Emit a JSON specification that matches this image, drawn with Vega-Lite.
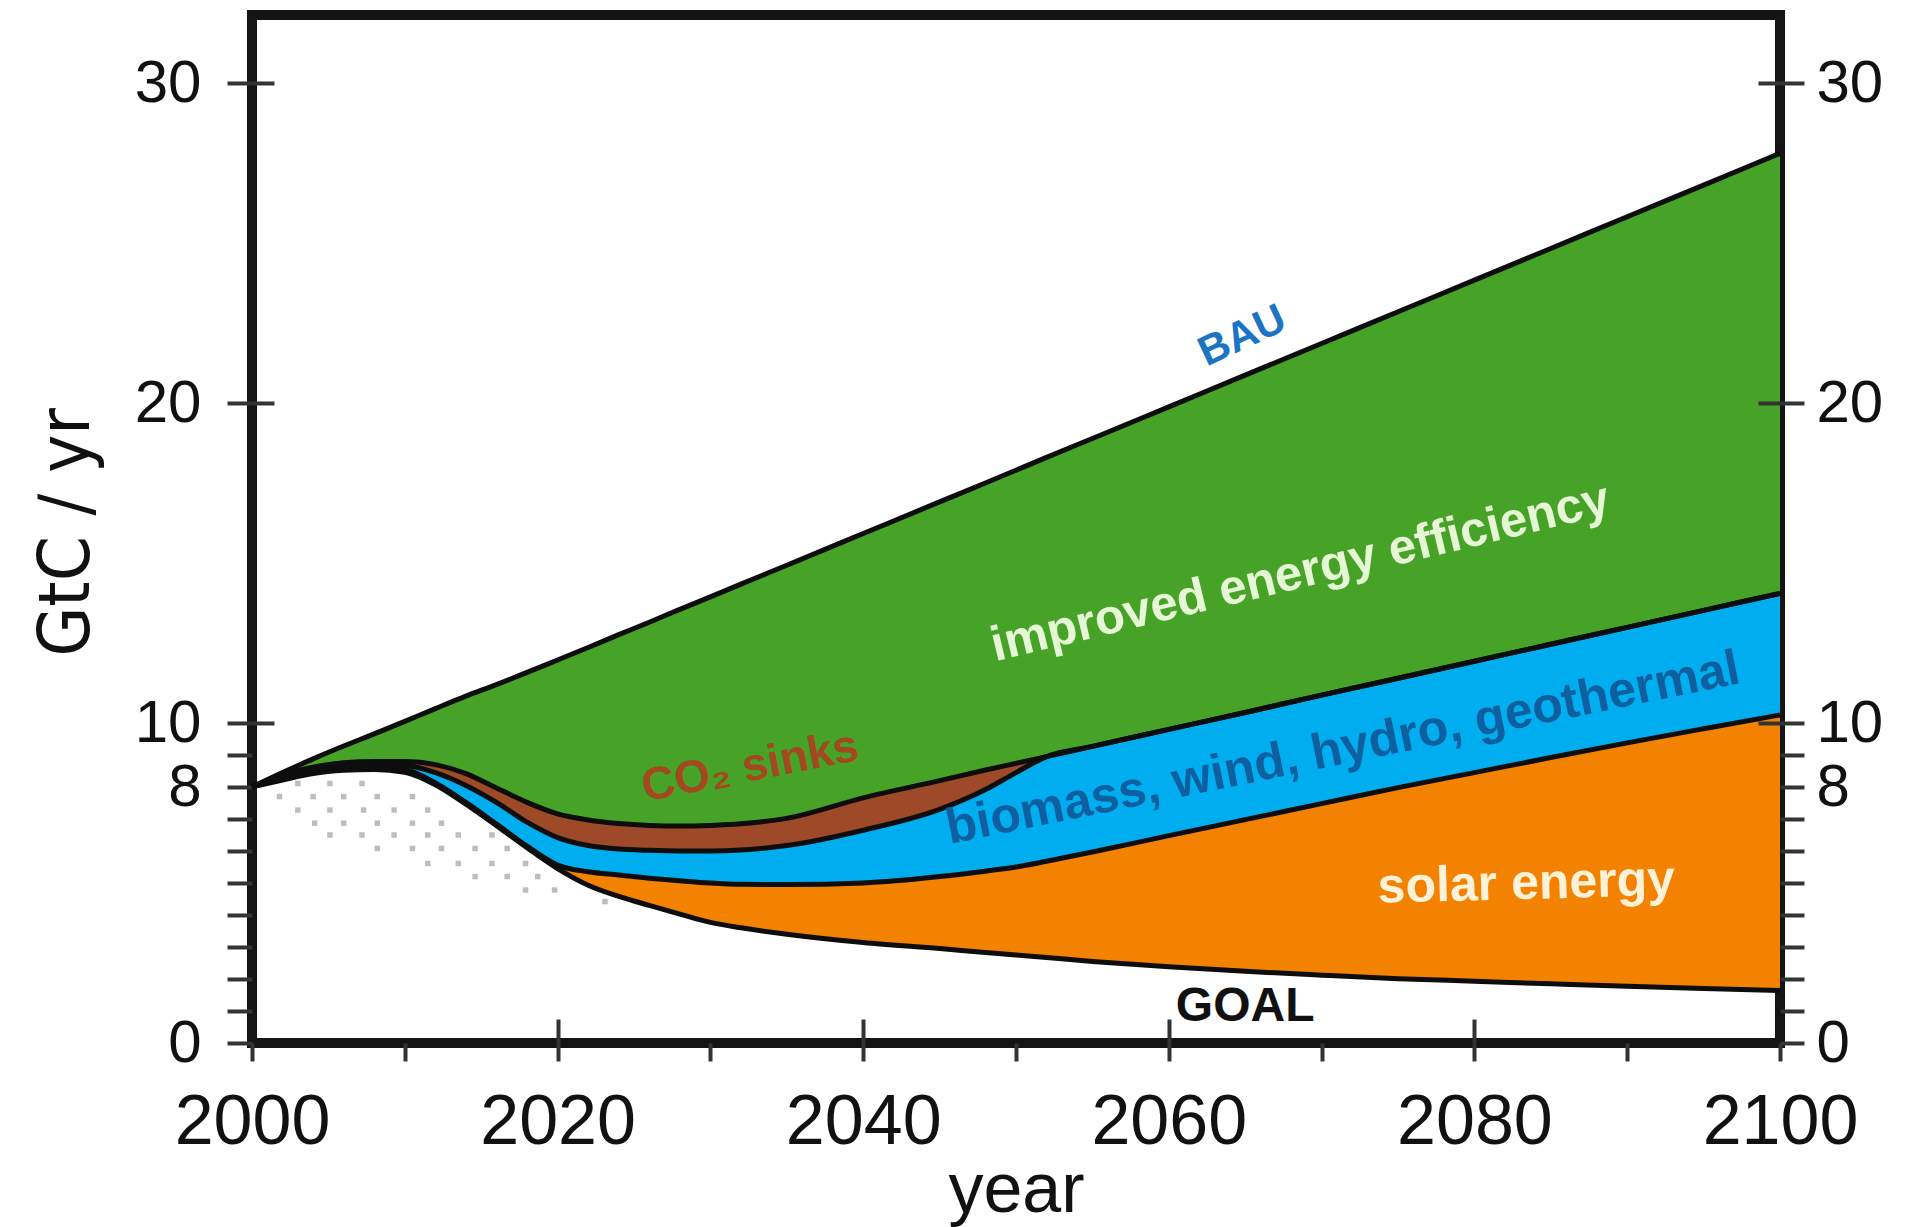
{
  "$schema": "https://vega.github.io/schema/vega-lite/v6.json",
  "width": 1528,
  "height": 1028,
  "autosize": {"type": "none"},
  "padding": {"left": 252, "top": 15, "right": 128, "bottom": 184},
  "background": "white",
  "config": {"view": {"stroke": "#141414", "strokeWidth": 10}, "font": "Liberation Sans"},
  "datasets": {
    "bands": [
      {"year": 2000, "bau": 8.0, "eff": 8.0, "sink": 8.0, "ren": 8.0, "goal": 8.0},
      {"year": 2002, "bau": 8.45, "eff": 8.38, "sink": 8.32, "ren": 8.27, "goal": 8.22},
      {"year": 2004, "bau": 8.88, "eff": 8.62, "sink": 8.55, "ren": 8.48, "goal": 8.42},
      {"year": 2006, "bau": 9.28, "eff": 8.76, "sink": 8.68, "ren": 8.6, "goal": 8.52},
      {"year": 2008, "bau": 9.66, "eff": 8.8, "sink": 8.72, "ren": 8.63, "goal": 8.55},
      {"year": 2010, "bau": 10.05, "eff": 8.8, "sink": 8.68, "ren": 8.55, "goal": 8.46},
      {"year": 2012, "bau": 10.45, "eff": 8.7, "sink": 8.45, "ren": 8.13, "goal": 8.07},
      {"year": 2014, "bau": 10.84, "eff": 8.42, "sink": 8.05, "ren": 7.52, "goal": 7.46},
      {"year": 2016, "bau": 11.2, "eff": 7.97, "sink": 7.52, "ren": 6.84, "goal": 6.79},
      {"year": 2018, "bau": 11.58, "eff": 7.52, "sink": 6.9, "ren": 6.15, "goal": 6.1},
      {"year": 2020, "bau": 11.97, "eff": 7.16, "sink": 6.42, "ren": 5.56, "goal": 5.45},
      {"year": 2022, "bau": 12.36, "eff": 6.97, "sink": 6.17, "ren": 5.35, "goal": 4.93},
      {"year": 2024, "bau": 12.76, "eff": 6.86, "sink": 6.06, "ren": 5.25, "goal": 4.58},
      {"year": 2026, "bau": 13.15, "eff": 6.8, "sink": 6.02, "ren": 5.15, "goal": 4.3},
      {"year": 2028, "bau": 13.55, "eff": 6.78, "sink": 6.0, "ren": 5.07, "goal": 4.03},
      {"year": 2030, "bau": 13.94, "eff": 6.8, "sink": 6.0, "ren": 5.0, "goal": 3.77},
      {"year": 2032, "bau": 14.34, "eff": 6.85, "sink": 6.03, "ren": 4.96, "goal": 3.6},
      {"year": 2035, "bau": 14.93, "eff": 7.02, "sink": 6.17, "ren": 4.95, "goal": 3.4},
      {"year": 2040, "bau": 15.92, "eff": 7.66, "sink": 6.65, "ren": 5.0, "goal": 3.14},
      {"year": 2045, "bau": 16.91, "eff": 8.2, "sink": 7.3, "ren": 5.2, "goal": 2.95},
      {"year": 2048, "bau": 17.5, "eff": 8.53, "sink": 7.92, "ren": 5.37, "goal": 2.83},
      {"year": 2050, "bau": 17.9, "eff": 8.74, "sink": 8.45, "ren": 5.5, "goal": 2.75},
      {"year": 2052, "bau": 18.3, "eff": 8.95, "sink": 8.95, "ren": 5.68, "goal": 2.67},
      {"year": 2055, "bau": 18.89, "eff": 9.27, "sink": 9.27, "ren": 5.97, "goal": 2.55},
      {"year": 2060, "bau": 19.88, "eff": 9.8, "sink": 9.8, "ren": 6.48, "goal": 2.38},
      {"year": 2065, "bau": 20.87, "eff": 10.33, "sink": 10.33, "ren": 6.98, "goal": 2.24},
      {"year": 2070, "bau": 21.86, "eff": 10.87, "sink": 10.87, "ren": 7.48, "goal": 2.12},
      {"year": 2075, "bau": 22.85, "eff": 11.4, "sink": 11.4, "ren": 7.98, "goal": 2.01},
      {"year": 2080, "bau": 23.84, "eff": 11.93, "sink": 11.93, "ren": 8.45, "goal": 1.93},
      {"year": 2085, "bau": 24.83, "eff": 12.46, "sink": 12.46, "ren": 8.92, "goal": 1.85},
      {"year": 2090, "bau": 25.82, "eff": 12.99, "sink": 12.99, "ren": 9.38, "goal": 1.77},
      {"year": 2095, "bau": 26.81, "eff": 13.52, "sink": 13.52, "ren": 9.82, "goal": 1.7},
      {"year": 2100, "bau": 27.8, "eff": 14.05, "sink": 14.05, "ren": 10.25, "goal": 1.64}
    ],
    "dots": [
      {"year": 2003.0, "value": 8.11}, {"year": 2005.1, "value": 8.11}, {"year": 2007.2, "value": 8.11},
      {"year": 2001.8, "value": 7.7}, {"year": 2004.0, "value": 7.7}, {"year": 2006.0, "value": 7.7}, {"year": 2008.2, "value": 7.7}, {"year": 2010.5, "value": 7.7},
      {"year": 2003.0, "value": 7.28}, {"year": 2005.1, "value": 7.28}, {"year": 2007.3, "value": 7.28}, {"year": 2009.3, "value": 7.28}, {"year": 2011.5, "value": 7.28},
      {"year": 2004.1, "value": 6.87}, {"year": 2006.0, "value": 6.87}, {"year": 2008.2, "value": 6.87}, {"year": 2010.5, "value": 6.87}, {"year": 2012.4, "value": 6.87},
      {"year": 2005.1, "value": 6.5}, {"year": 2007.2, "value": 6.5}, {"year": 2009.3, "value": 6.5}, {"year": 2011.5, "value": 6.5}, {"year": 2013.5, "value": 6.5}, {"year": 2015.7, "value": 6.5},
      {"year": 2008.2, "value": 6.08}, {"year": 2010.5, "value": 6.08}, {"year": 2012.4, "value": 6.08}, {"year": 2014.6, "value": 6.08}, {"year": 2016.7, "value": 6.08},
      {"year": 2011.5, "value": 5.61}, {"year": 2013.5, "value": 5.61}, {"year": 2015.7, "value": 5.61}, {"year": 2017.9, "value": 5.61},
      {"year": 2014.6, "value": 5.2}, {"year": 2016.7, "value": 5.2}, {"year": 2018.7, "value": 5.2},
      {"year": 2017.9, "value": 4.78}, {"year": 2019.8, "value": 4.78},
      {"year": 2023.1, "value": 4.42}
    ],
    "labels": [
      {"label": "BAU", "year": 2064.8, "value": 22.1},
      {"label": "improved energy efficiency", "year": 2068.6, "value": 14.7},
      {"label": "biomass, wind, hydro, geothermal", "year": 2071.4, "value": 9.2},
      {"label": "solar energy", "year": 2083.4, "value": 4.97},
      {"label": "GOAL", "year": 2065.0, "value": 1.11},
      {"label": "CO₂ sinks", "year": 2032.6, "value": 8.63}
    ]
  },
  "resolve": {"axis": {"x": "independent", "y": "independent"}},
  "layer": [
    {
      "data": {"name": "bands"},
      "mark": {"type": "area", "interpolate": "monotone", "color": "#46A328"},
      "encoding": {
        "x": {"field": "year", "type": "quantitative",
          "scale": {"domain": [2000, 2100], "nice": false, "zero": false},
          "axis": {"orient": "bottom", "values": [2000, 2010, 2020, 2030, 2040, 2050, 2060, 2070, 2080, 2090, 2100],
            "labelExpr": "datum.value % 20 === 0 ? '' + datum.value : ''",
            "labelFont": "Liberation Sans", "labelFontSize": 70, "labelColor": "#111111", "labelPadding": 27,
            "labelFlush": false, "labelOverlap": false, "labelBound": false,
            "tickSize": 18, "tickWidth": 4, "tickColor": "#333333", "domain": false, "grid": false,
            "title": "year", "titleFont": "Liberation Sans", "titleFontSize": 70, "titleFontWeight": "normal", "titleColor": "#111111",
            "titleX": 764, "titleY": 168, "titleBaseline": "alphabetic", "titleAlign": "center"}},
        "y": {"field": "bau", "type": "quantitative",
          "scale": {"domain": [0, 32.125], "nice": false},
          "axis": {"orient": "left", "values": [0, 1, 2, 3, 4, 5, 6, 7, 8, 9, 10, 20, 30],
            "labelExpr": "indexof([0, 8, 10, 20, 30], datum.value) >= 0 ? datum.label : ''",
            "labelFont": "Liberation Sans", "labelFontSize": 60, "labelColor": "#111111", "labelPadding": 26,
            "labelOverlap": false, "labelBound": false, "labelFlush": false,
            "tickSize": 25, "tickWidth": 4, "tickColor": "#333333", "domain": false, "grid": false,
            "title": "GtC / yr", "titleFont": "Liberation Sans Narrow, DejaVu Sans Condensed, Liberation Sans", "titleFontSize": 72, "titleFontWeight": "normal", "titleColor": "#111111",
            "titleX": -164, "titleY": 517, "titleAngle": 270, "titleBaseline": "alphabetic", "titleAlign": "center"}},
        "y2": {"field": "eff"}
      }
    },
    {
      "data": {"name": "bands"},
      "mark": {"type": "area", "interpolate": "monotone", "color": "#9E4A28"},
      "encoding": {
        "x": {"field": "year", "type": "quantitative",
          "axis": {"orient": "top", "offset": -1028, "values": [2020, 2040, 2060, 2080], "labels": false,
            "tickSize": 24, "tickWidth": 4, "tickColor": "#333333", "domain": false, "grid": false, "title": null, "zindex": 2}},
        "y": {"field": "eff", "type": "quantitative",
          "axis": {"orient": "right", "offset": -1528, "values": [10, 20, 30], "labels": false,
            "tickSize": 22, "tickWidth": 4, "tickColor": "#333333", "domain": false, "grid": false, "title": null, "zindex": 2}},
        "y2": {"field": "sink"}
      }
    },
    {
      "data": {"name": "bands"},
      "mark": {"type": "area", "interpolate": "monotone", "color": "#00AEEF"},
      "encoding": {
        "x": {"field": "year", "type": "quantitative", "axis": null},
        "y": {"field": "sink", "type": "quantitative",
          "axis": {"orient": "right", "values": [0, 1, 2, 3, 4, 5, 6, 7, 8, 9, 10, 20, 30],
            "labelExpr": "indexof([0, 8, 10, 20, 30], datum.value) >= 0 ? datum.label : ''",
            "labelFont": "Liberation Sans", "labelFontSize": 60, "labelColor": "#111111", "labelPadding": 12,
            "labelOverlap": false, "labelBound": false, "labelFlush": false,
            "tickSize": 24, "tickWidth": 4, "tickColor": "#333333", "domain": false, "grid": false, "title": null}},
        "y2": {"field": "ren"}
      }
    },
    {
      "data": {"name": "bands"},
      "mark": {"type": "area", "interpolate": "monotone", "color": "#F28200"},
      "encoding": {
        "x": {"field": "year", "type": "quantitative", "axis": null},
        "y": {"field": "ren", "type": "quantitative",
          "axis": {"orient": "left", "offset": -1528, "values": [10, 20, 30], "labels": false,
            "tickSize": 22, "tickWidth": 4, "tickColor": "#333333", "domain": false, "grid": false, "title": null, "zindex": 2}},
        "y2": {"field": "goal"}
      }
    },
    {
      "data": {"name": "bands"},
      "transform": [{"fold": ["bau", "eff", "sink", "ren", "goal"], "as": ["series", "v"]}],
      "mark": {"type": "line", "interpolate": "monotone", "color": "#0d0d0d", "strokeWidth": 5},
      "encoding": {
        "x": {"field": "year", "type": "quantitative", "axis": null},
        "y": {"field": "v", "type": "quantitative", "axis": null},
        "detail": {"field": "series"}
      }
    },
    {
      "data": {"name": "dots"},
      "mark": {"type": "point", "shape": "square", "filled": true, "size": 30, "color": "#bdbdbd", "opacity": 1},
      "encoding": {
        "x": {"field": "year", "type": "quantitative", "axis": null},
        "y": {"field": "value", "type": "quantitative", "axis": null}
      }
    },
    {
      "data": {"name": "labels"},
      "transform": [{"filter": "datum.label === 'BAU'"}],
      "mark": {"type": "text", "angle": -25, "font": "Liberation Sans", "fontWeight": "bold", "fontSize": 42, "color": "#1B75C4", "align": "center", "baseline": "middle"},
      "encoding": {
        "x": {"field": "year", "type": "quantitative", "axis": null},
        "y": {"field": "value", "type": "quantitative", "axis": null},
        "text": {"field": "label"}
      }
    },
    {
      "data": {"name": "labels"},
      "transform": [{"filter": "datum.label === 'improved energy efficiency'"}],
      "mark": {"type": "text", "angle": -13.5, "font": "Liberation Sans", "fontWeight": "bold", "fontSize": 49, "color": "#E6F7D5", "align": "center", "baseline": "middle"},
      "encoding": {
        "x": {"field": "year", "type": "quantitative", "axis": null},
        "y": {"field": "value", "type": "quantitative", "axis": null},
        "text": {"field": "label"}
      }
    },
    {
      "data": {"name": "labels"},
      "transform": [{"filter": "datum.label === 'biomass, wind, hydro, geothermal'"}],
      "mark": {"type": "text", "angle": -11.5, "font": "Liberation Sans", "fontWeight": "bold", "fontSize": 50, "color": "#0D5FA0", "align": "center", "baseline": "middle"},
      "encoding": {
        "x": {"field": "year", "type": "quantitative", "axis": null},
        "y": {"field": "value", "type": "quantitative", "axis": null},
        "text": {"field": "label"}
      }
    },
    {
      "data": {"name": "labels"},
      "transform": [{"filter": "datum.label === 'solar energy'"}],
      "mark": {"type": "text", "angle": -1.5, "font": "Liberation Sans", "fontWeight": "bold", "fontSize": 50, "color": "#FFF2D8", "align": "center", "baseline": "middle"},
      "encoding": {
        "x": {"field": "year", "type": "quantitative", "axis": null},
        "y": {"field": "value", "type": "quantitative", "axis": null},
        "text": {"field": "label"}
      }
    },
    {
      "data": {"name": "labels"},
      "transform": [{"filter": "datum.label === 'GOAL'"}],
      "mark": {"type": "text", "angle": 0, "font": "Liberation Sans", "fontWeight": "bold", "fontSize": 48, "color": "#111111", "align": "center", "baseline": "middle"},
      "encoding": {
        "x": {"field": "year", "type": "quantitative", "axis": null},
        "y": {"field": "value", "type": "quantitative", "axis": null},
        "text": {"field": "label"}
      }
    },
    {
      "data": {"name": "labels"},
      "transform": [{"filter": "datum.label === 'CO₂ sinks'"}],
      "mark": {"type": "text", "angle": -11, "font": "Liberation Sans", "fontWeight": "bold", "fontSize": 46, "color": "#A3481F", "align": "center", "baseline": "middle"},
      "encoding": {
        "x": {"field": "year", "type": "quantitative", "axis": null},
        "y": {"field": "value", "type": "quantitative", "axis": null},
        "text": {"field": "label"}
      }
    }
  ]
}
